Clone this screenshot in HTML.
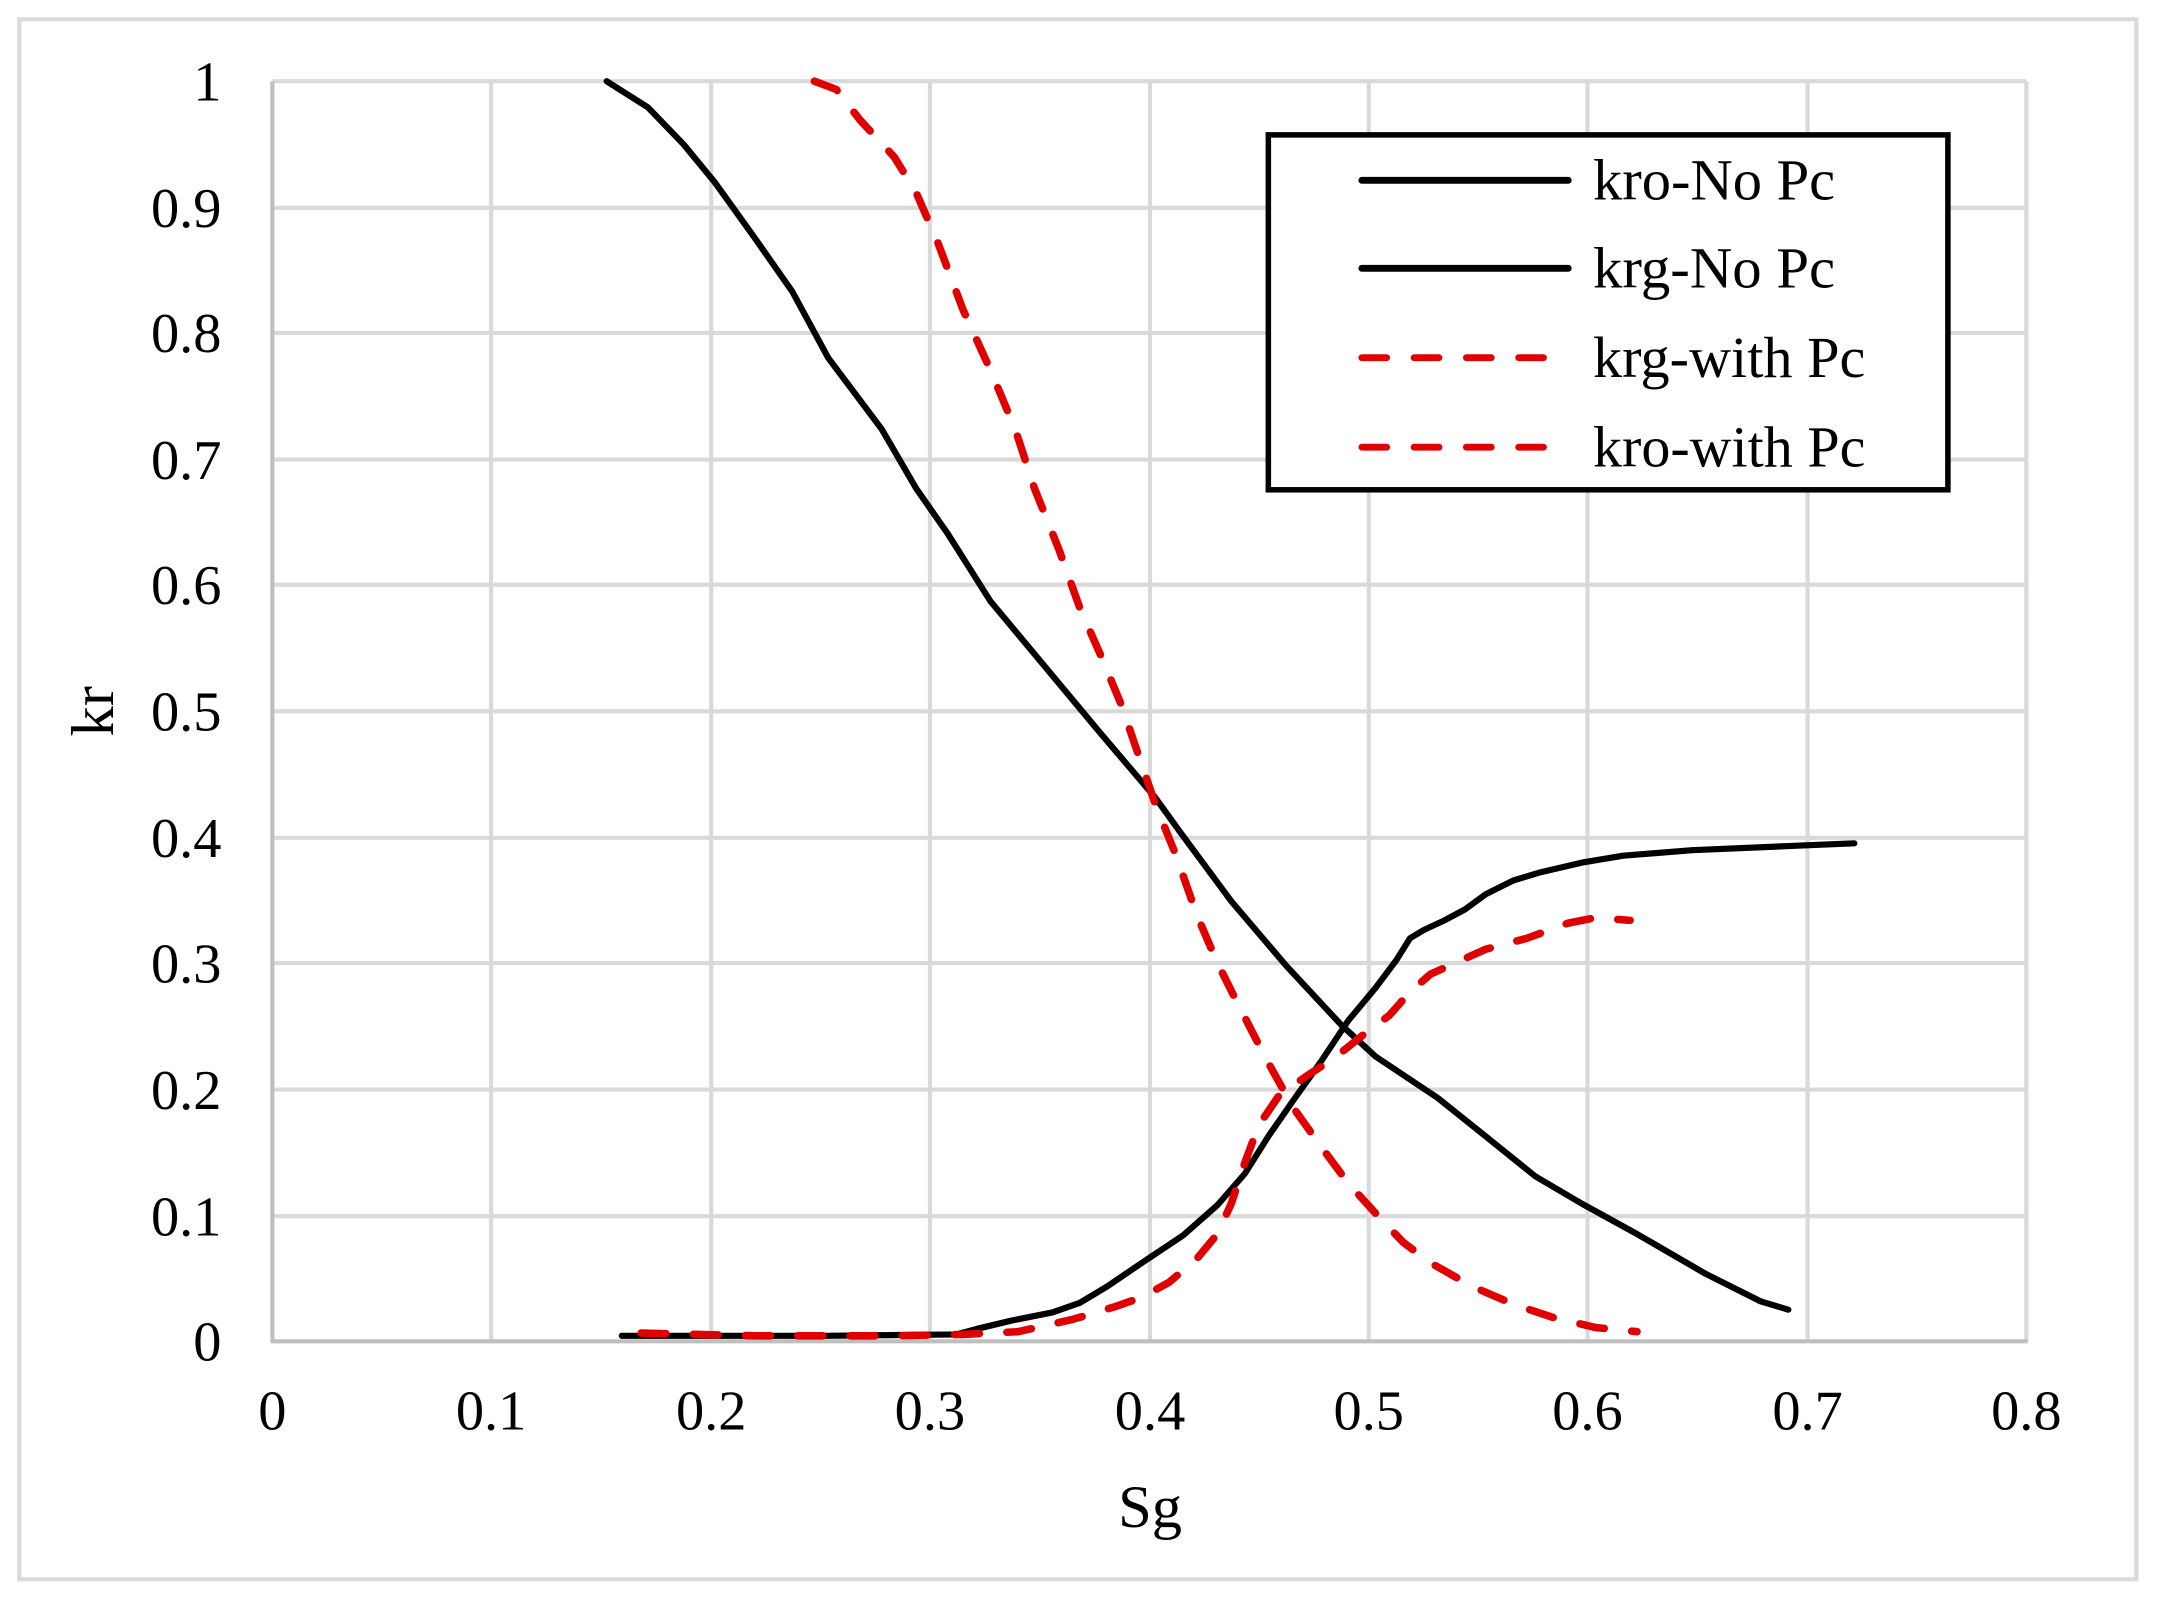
<!DOCTYPE html>
<html><head><meta charset="utf-8"><style>
html,body{margin:0;padding:0;background:#fff;}
svg{display:block;}
text{font-family:"Liberation Serif","Times New Roman",serif;fill:#000;}
</style></head><body>
<svg width="2157" height="1600" viewBox="0 0 1568 1163" xmlns="http://www.w3.org/2000/svg">
<rect x="0" y="0" width="1568" height="1163" fill="#fff"/>
<rect x="14" y="14" width="1539" height="1134" fill="none" stroke="#d9d9d9" stroke-width="3"/>
<g stroke="#d9d9d9" stroke-width="3">
<line x1="357" y1="59" x2="357" y2="975"/><line x1="517" y1="59" x2="517" y2="975"/>
<line x1="676" y1="59" x2="676" y2="975"/><line x1="836" y1="59" x2="836" y2="975"/>
<line x1="995" y1="59" x2="995" y2="975"/><line x1="1154" y1="59" x2="1154" y2="975"/>
<line x1="1314" y1="59" x2="1314" y2="975"/><line x1="1473" y1="59" x2="1473" y2="975"/>
<line x1="198" y1="59" x2="1473" y2="59"/><line x1="198" y1="151" x2="1473" y2="151"/>
<line x1="198" y1="242" x2="1473" y2="242"/><line x1="198" y1="334" x2="1473" y2="334"/>
<line x1="198" y1="425" x2="1473" y2="425"/><line x1="198" y1="517" x2="1473" y2="517"/>
<line x1="198" y1="609" x2="1473" y2="609"/><line x1="198" y1="700" x2="1473" y2="700"/>
<line x1="198" y1="792" x2="1473" y2="792"/><line x1="198" y1="884" x2="1473" y2="884"/>
</g>
<g stroke="#bfbfbf" stroke-width="3"><line x1="198" y1="59" x2="198" y2="976"/><line x1="197" y1="975" x2="1474" y2="975"/></g>
<g font-size="41" text-anchor="end">
<text x="161" y="73">1</text><text x="161" y="165">0.9</text><text x="161" y="256">0.8</text>
<text x="161" y="348">0.7</text><text x="161" y="439">0.6</text><text x="161" y="531">0.5</text>
<text x="161" y="623">0.4</text><text x="161" y="714">0.3</text><text x="161" y="806">0.2</text>
<text x="161" y="898">0.1</text><text x="161" y="989">0</text>
</g>
<g font-size="41" text-anchor="middle">
<text x="198" y="1039">0</text><text x="357" y="1039">0.1</text><text x="517" y="1039">0.2</text>
<text x="676" y="1039">0.3</text><text x="836" y="1039">0.4</text><text x="995" y="1039">0.5</text>
<text x="1154" y="1039">0.6</text><text x="1314" y="1039">0.7</text><text x="1473" y="1039">0.8</text>
</g>
<text x="836" y="1110" font-size="44" text-anchor="middle">Sg</text>
<text transform="translate(82,517) rotate(-90)" font-size="44" text-anchor="middle">kr</text>
<g fill="none" stroke-linejoin="round" stroke-linecap="round">
<polyline stroke="#000" stroke-width="4.5" points="441,59 471,78 497,105 520,133 548,172 576,212 602,260 641,312 666,355 689,388 720,437 760,485 800,533 840,580 858,605 895,655 935,702 975,745 1000,768 1045,798 1080,826 1116,855 1150,875 1190,897 1240,926 1280,946 1300,952"/>
<polyline stroke="#000" stroke-width="4.5" points="452,971 500,971 600,971 695,970 710,966 735,960 765,954 785,947 805,935 830,918 860,898 885,876 905,853 922,826 940,800 960,772 980,742 1000,718 1015,698 1025,682 1035,676 1050,669 1065,661 1080,650 1100,640 1120,634 1150,627 1180,622 1230,618 1300,615 1348,613"/>
<polyline stroke="#e00000" stroke-width="5.5" stroke-dasharray="18 20" points="466,969 550,971 650,971 700,970 740,968 780,959 810,950 830,943 850,932 870,915 885,897 895,875 905,845 915,818 930,796 950,782 970,769 990,753 1010,738 1025,721 1040,708 1060,699 1080,690 1110,682 1140,671 1160,667 1185,669"/>
<polyline stroke="#e00000" stroke-width="5.5" stroke-dasharray="18 20" points="592,59 608,65 625,87 650,114 666,140 682,177 700,225 720,269 738,312 752,355 770,400 785,442 800,476 815,512 828,550 840,585 855,622 870,665 885,700 900,730 920,769 940,805 960,833 980,860 1000,882 1020,903 1040,918 1070,935 1100,948 1130,958 1160,965 1190,968"/>
</g>
<rect x="922" y="98" width="494" height="258" fill="#fff" stroke="#000" stroke-width="4"/>
<g stroke-linecap="round" stroke-width="5">
<line x1="990" y1="131" x2="1140" y2="131" stroke="#000"/>
<line x1="990" y1="195" x2="1140" y2="195" stroke="#000"/>
<line x1="990" y1="260" x2="1140" y2="260" stroke="#e00000" stroke-dasharray="18 20"/>
<line x1="990" y1="325" x2="1140" y2="325" stroke="#e00000" stroke-dasharray="18 20"/>
</g>
<g font-size="42">
<text x="1158" y="145" textLength="176" lengthAdjust="spacingAndGlyphs">kro-No Pc</text>
<text x="1158" y="209" textLength="176" lengthAdjust="spacingAndGlyphs">krg-No Pc</text>
<text x="1158" y="274" textLength="198" lengthAdjust="spacingAndGlyphs">krg-with Pc</text>
<text x="1158" y="339" textLength="198" lengthAdjust="spacingAndGlyphs">kro-with Pc</text>
</g>
</svg>
</body></html>
